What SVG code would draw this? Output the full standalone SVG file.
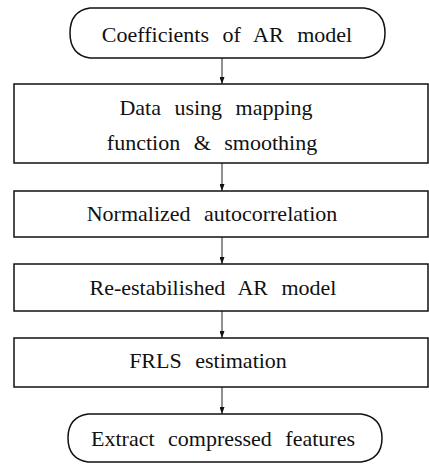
<svg xmlns="http://www.w3.org/2000/svg" width="429" height="466" viewBox="0 0 429 466">
<style>
.n{fill:#fff;stroke:#111;stroke-width:1.5}
.t{font-family:"Liberation Serif","Times New Roman",serif;font-size:22px;fill:#111;text-anchor:middle;word-spacing:8px}
.c{stroke:#222;stroke-width:1;fill:none;marker-end:url(#ah)}
</style>
<defs>
<marker id="ah" markerWidth="7" markerHeight="5" refX="7" refY="2.5" orient="auto" markerUnits="userSpaceOnUse" viewBox="0 0 7 5">
<path d="M0,0 L7,2.5 L0,5 Z" fill="#111"/>
</marker>
</defs>
<rect width="429" height="466" fill="#fff"/>
<g id="connectors">
<line class="c" x1="222" y1="58" x2="222" y2="84"/>
<line class="c" x1="222" y1="163" x2="222" y2="191"/>
<line class="c" x1="222" y1="237" x2="222" y2="264"/>
<line class="c" x1="222" y1="311" x2="222" y2="338"/>
<line class="c" x1="222" y1="387" x2="222" y2="414"/>
</g>
<g id="n1">
<path class="n" d="M90,8 H364 Q385,11 385,33 Q385,55 364,58 H90 Q70,55 70,33 Q70,11 90,8 Z"/>
<text class="t" x="227" y="42">Coefficients of AR model</text>
</g>
<g id="n2">
<rect class="n" x="14" y="84" width="414" height="79"/>
<text class="t" x="216" y="115">Data using mapping</text>
<text class="t" x="212" y="150">function &amp; smoothing</text>
</g>
<g id="n3">
<rect class="n" x="14" y="191" width="414" height="46"/>
<text class="t" x="212" y="221">Normalized autocorrelation</text>
</g>
<g id="n4">
<rect class="n" x="14" y="264" width="414" height="47"/>
<text class="t" x="213" y="295">Re-estabilished AR model</text>
</g>
<g id="n5">
<rect class="n" x="14" y="338" width="414" height="49"/>
<text class="t" x="208" y="368">FRLS estimation</text>
</g>
<g id="n6">
<path class="n" d="M88,414 H361 Q382,417 382,438 Q382,459 361,462 H88 Q68,459 68,438 Q68,417 88,414 Z"/>
<text class="t" x="223" y="446">Extract compressed features</text>
</g>
</svg>
